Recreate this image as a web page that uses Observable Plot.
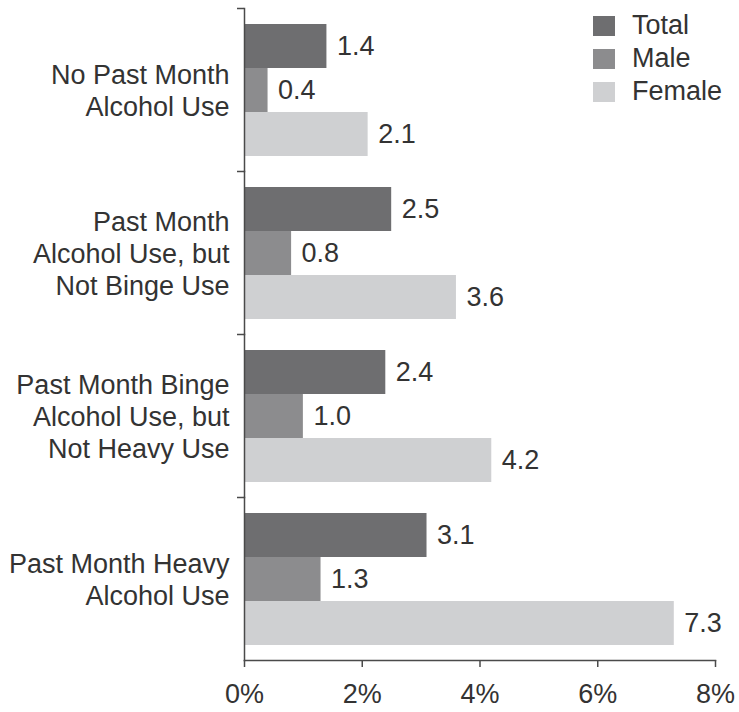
<!DOCTYPE html>
<html><head><meta charset="utf-8">
<script src="https://cdn.jsdelivr.net/npm/d3@7"></script>
<script src="https://cdn.jsdelivr.net/npm/@observablehq/plot@0.6"></script>
<style>
body{margin:0;background:#fff;font-family:"Liberation Sans",Arial,Helvetica,sans-serif;}
#wrap{position:relative;width:739px;height:712px;}
#legend{position:absolute;left:593px;top:9px;font-size:27px;color:#333;}
.row{display:flex;align-items:center;height:33px;}
.sw{width:22px;height:20px;margin-right:17px;}
</style></head><body>
<div id="wrap"><div id="legend"></div></div>
<script>
const categories = [
  "No Past Month\nAlcohol Use",
  "Past Month\nAlcohol Use, but\nNot Binge Use",
  "Past Month Binge\nAlcohol Use, but\nNot Heavy Use",
  "Past Month Heavy\nAlcohol Use"
];
const series = ["Total", "Male", "Female"];
const totalValues = [1.4, 2.5, 2.4, 3.1];
const maleValues = [0.4, 0.8, 1.0, 1.3];
const femaleValues = [2.1, 3.6, 4.2, 7.3];
const xTicks = [0, 2, 4, 6, 8];
const colors = ["#6e6e70", "#8c8c8e", "#cfd0d2"];

const valuesBySeries = {Total: totalValues, Male: maleValues, Female: femaleValues};
const data = categories.flatMap((c, i) => series.map(s => ({category: c, series: s, value: valuesBySeries[s][i]})));

const plot = Plot.plot({
  width: 739, height: 712,
  marginTop: 8, marginBottom: 52, marginLeft: 244, marginRight: 24,
  style: {fontFamily: '"Liberation Sans", Arial, Helvetica, sans-serif', fontSize: "27px", color: "#333", background: "white"},
  x: {domain: [0, 8], label: null},
  y: {domain: series, paddingInner: 0, paddingOuter: 0.32, axis: null, label: null},
  fy: {domain: categories, padding: 0, label: null},
  color: {domain: series, range: colors},
  marks: [
    Plot.barX(data, {x: "value", y: "series", fy: "category", fill: "series"}),
    Plot.text(data, {x: "value", y: "series", fy: "category", text: d => d.value.toFixed(1), textAnchor: "start", dx: 10, fontSize: 27, fill: "#333"}),
    Plot.frame({anchor: "left", stroke: "#4a4a4a", strokeWidth: 1.5}),
    Plot.frame({anchor: "bottom", facetAnchor: "bottom", stroke: "#4a4a4a", strokeWidth: 1.5}),
    Plot.axisX({ticks: xTicks, tickFormat: d => d + "%", tickSize: 7, tickPadding: 16, fontSize: 27, stroke: "#4a4a4a", strokeWidth: 1.5, label: null}),
    Plot.axisFy({anchor: "left", tickSize: 0, tickPadding: 15, fontSize: 27, lineHeight: 1.19, label: null}),
    Plot.axisFy({anchor: "left", tickSize: 7, fill: "none", stroke: "#4a4a4a", strokeWidth: 1.5, dy: -81.5, label: null})
  ]
});
document.getElementById("wrap").prepend(plot);

const legend = document.getElementById("legend");
series.forEach((s, i) => {
  const row = document.createElement("div");
  row.className = "row";
  const sw = document.createElement("div");
  sw.className = "sw";
  sw.style.background = colors[i];
  const t = document.createElement("span");
  t.textContent = s;
  row.append(sw, t);
  legend.append(row);
});
</script>
</body></html>
